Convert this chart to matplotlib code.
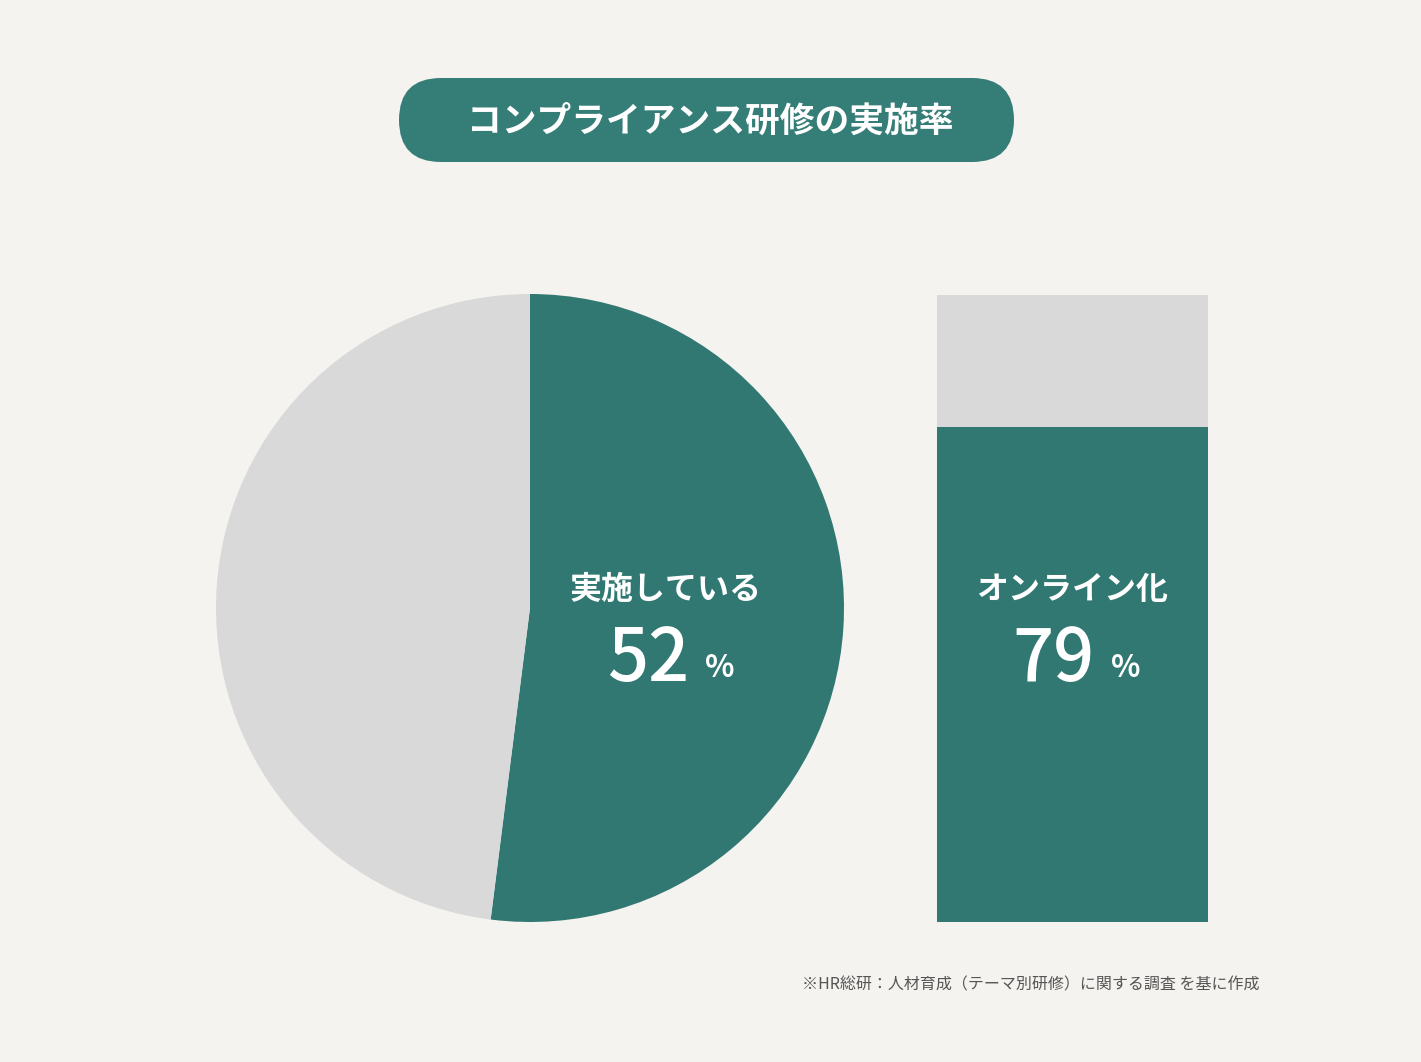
import matplotlib
matplotlib.use("Agg")
import matplotlib.pyplot as plt
from matplotlib.patches import FancyBboxPatch

plt.rcParams["font.family"] = "Noto Sans CJK JP"

TITLE = "コンプライアンス研修の実施率"
PIE_LABELS = ["実施している", "その他"]
PIE_VALUES = [52, 48]
BAR_LABEL = "オンライン化"
BAR_VALUE = 79
NOTE = "※HR総研：人材育成（テーマ別研修）に関する調査 を基に作成"

TEAL = "#317872"
GRAY = "#d9d9d9"
BG = "#f5f3ef"
W, H = 1421, 1062

fig = plt.figure(figsize=(W / 100, H / 100), dpi=100, facecolor=BG)
ax = fig.add_axes([0, 0, 1, 1])
ax.set_xlim(0, W)
ax.set_ylim(0, H)
ax.set_aspect("equal")
ax.axis("off")

# title pill
ax.add_patch(FancyBboxPatch((399, H - 162), 615, 84, boxstyle="round,pad=0,rounding_size=42",
                            fc="#357d77", ec="none", mutation_aspect=1))
ax.text(710, H - 121, TITLE, color="white", fontsize=25, fontweight="bold", ha="center", va="center")

# pie
ax.pie(PIE_VALUES, colors=[TEAL, GRAY], startangle=90, counterclock=False,
       center=(530, H - 608), radius=314, frame=True)
ax.set_xlim(0, W)
ax.set_ylim(0, H)
ax.axis("off")
ax.text(666, H - 590, PIE_LABELS[0], color="white", fontsize=23, fontweight="bold", ha="center", va="center")
ax.text(648, H - 660, str(PIE_VALUES[0]), color="white", fontsize=52, fontweight="medium", ha="center", va="center")
ax.text(720, H - 668, "%", color="white", fontsize=22, fontweight="bold", ha="center", va="center")

# bar
bx, bw, bb, bh = 1072.5, 271, H - 922, 627
ax.bar(bx, bh, width=bw, bottom=bb, color=GRAY)
ax.bar(bx, bh * BAR_VALUE / 100, width=bw, bottom=bb, color=TEAL)
ax.text(1072, H - 590, BAR_LABEL, color="white", fontsize=23, fontweight="bold", ha="center", va="center")
ax.text(1053, H - 660, str(BAR_VALUE), color="white", fontsize=52, fontweight="medium", ha="center", va="center")
ax.text(1126, H - 668, "%", color="white", fontsize=22, fontweight="bold", ha="center", va="center")

ax.text(1260, H - 985, NOTE, color="#555555", fontsize=11.5, ha="right", va="center")

fig.savefig("out.png", dpi=100, facecolor=BG)
